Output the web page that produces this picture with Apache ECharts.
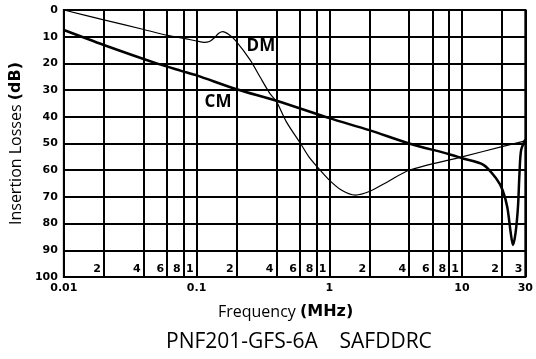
<!DOCTYPE html>
<html>
<head>
<meta charset="utf-8">
<script src="https://cdn.jsdelivr.net/npm/echarts@6/dist/echarts.min.js"></script>
<style>
  html, body { margin: 0; padding: 0; background: #fff; }
  #chart { width: 536px; height: 359px; }
</style>
</head>
<body>
<div id="chart"></div>
<script>
// 频率 (MHz) / 插入损耗 (dB)
const dmFreq = [0.01, 0.02, 0.04, 0.06, 0.08, 0.1, 0.114, 0.125, 0.135, 0.147, 0.158, 0.174, 0.196,
  0.253, 0.3, 0.356, 0.4, 0.474, 0.61, 0.7, 0.81, 1.0, 1.24, 1.57, 2.0, 2.76, 4, 10, 20, 30]
const dmLoss = [0, 3.7, 7.3, 9.5, 10.6, 11.6, 12.1, 11.8, 10.6, 8.7, 8.1, 9.1, 11.4,
  18.7, 25, 31.2, 34.3, 41.8, 50.2, 54.9, 58.7, 63.7, 67.5, 69.3, 68, 64.3, 60, 55, 51.2, 49]

const cmFreq = [0.01, 0.02, 0.05, 0.0765, 0.1, 0.2, 0.4, 1, 2, 4, 8, 10, 14.5, 18.2, 20.2, 21.9,
  23.3, 24.2, 25.3, 26.4, 27.1, 27.9, 30]
const cmLoss = [7.5, 13.1, 20, 22.8, 24.5, 29.7, 34, 40.5, 45, 50, 54, 55.5, 58, 63.3, 67.4, 73.7,
  83.6, 88, 83.6, 73.7, 61.2, 52.4, 48.5]

// 坐标轴刻度
const xLabelValues = [0.01, 0.1, 1, 10, 30]
const gridValues = [0.01, 0.02, 0.04, 0.06, 0.08, 0.1, 0.2, 0.4, 0.6, 0.8, 1, 2, 4, 6, 8, 10, 20, 30]
const innerLabelValues = [0.02, 0.04, 0.06, 0.08, 0.1, 0.2, 0.4, 0.6, 0.8, 1, 2, 4, 6, 8, 10, 20, 30]

// 曲线标注
const dmTag = ['DM', 0.305, 13.5]
const cmTag = ['CM', 0.145, 34.6]

const pairs = (xs, ys) => xs.map((x, i) => [x, ys[i]])
const leadDigit = v => Math.round(v / Math.pow(10, Math.floor(Math.log10(v) + 1e-9)))

const black = '#000'
const tickFont = { fontFamily: 'DejaVu Sans', fontWeight: 'bold', fontSize: 11, color: black }

const tagPoint = (tag) => ({
  symbol: 'rect',
  symbolSize: 0,
  data: [{
    coord: [tag[1], tag[2]],
    label: {
      show: true,
      position: 'inside',
      formatter: tag[0],
      fontFamily: 'Open Sans',
      fontWeight: 'bold',
      fontSize: 17,
      color: black
    }
  }]
})

const chart = echarts.init(document.getElementById('chart'))

chart.setOption({
  animation: false,
  backgroundColor: '#fff',
  title: {
    text: 'PNF201-GFS-6A    SAFDDRC',
    left: 161,
    top: 327,
    textStyle: { fontFamily: 'Open Sans', fontWeight: 'normal', fontSize: 21, color: black }
  },
  grid: {
    left: 61, right: 9, top: 10, bottom: 82,
    show: true, borderColor: black, borderWidth: 2
  },
  xAxis: [{
    type: 'log',
    logBase: 10,
    min: 0.01,
    max: 30,
    name: '{a|Frequency }{b|(MHz)}',
    nameLocation: 'middle',
    nameGap: 27,
    nameTextStyle: {
      padding: [0, 18, 0, 0],
      rich: {
        a: { fontFamily: 'Open Sans', fontSize: 16, color: black },
        b: { fontFamily: 'DejaVu Sans', fontWeight: 'bold', fontSize: 16, color: black }
      }
    },
    axisLine: { lineStyle: { color: black, width: 2 } },
    axisTick: { show: false, customValues: gridValues },
    minorTick: { show: false },
    splitLine: { show: true, lineStyle: { color: black, width: 2 } },
    axisLabel: {
      ...tickFont,
      margin: 6,
      customValues: xLabelValues,
      formatter: v => String(+v.toPrecision(3))
    }
  }, {
    type: 'log',
    logBase: 10,
    min: 0.01,
    max: 30,
    position: 'bottom',
    axisLine: { show: false },
    axisTick: { show: false },
    splitLine: { show: false },
    axisLabel: {
      ...tickFont,
      inside: true,
      margin: 2,
      align: 'right',
      padding: [0, 3, 0, 0],
      customValues: innerLabelValues,
      formatter: v => String(leadDigit(v))
    }
  }],
  yAxis: {
    type: 'value',
    inverse: true,
    min: 0,
    max: 100,
    interval: 10,
    name: '{a|Insertion Losses }{b|(dB)}',
    nameLocation: 'middle',
    nameGap: 37,
    nameTextStyle: {
      rich: {
        a: { fontFamily: 'Open Sans', fontSize: 16, color: black },
        b: { fontFamily: 'DejaVu Sans', fontWeight: 'bold', fontSize: 16, color: black }
      }
    },
    axisLine: { show: true, lineStyle: { color: black, width: 2 } },
    axisTick: { show: false },
    splitLine: { show: true, lineStyle: { color: black, width: 2 } },
    axisLabel: { ...tickFont, margin: 6 }
  },
  series: [{
    name: 'CM',
    type: 'line',
    data: pairs(cmFreq, cmLoss),
    smooth: 0.3,
    symbol: 'none',
    lineStyle: { color: black, width: 2.5 },
    markPoint: tagPoint(cmTag),
    z: 5
  }, {
    name: 'DM',
    type: 'line',
    data: pairs(dmFreq, dmLoss),
    smooth: 0.3,
    symbol: 'none',
    lineStyle: { color: black, width: 1.2 },
    markPoint: tagPoint(dmTag),
    z: 5
  }]
})
</script>
</body>
</html>
